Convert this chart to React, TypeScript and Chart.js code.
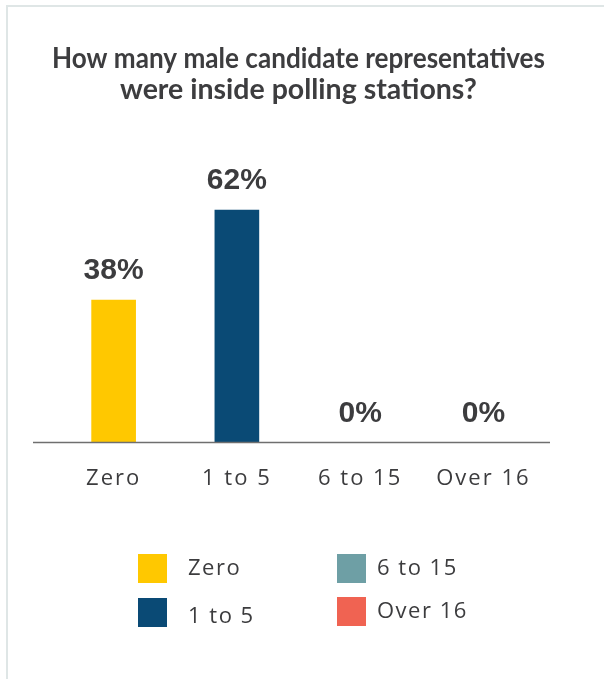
import React, { useEffect, useRef } from "react";
import { Chart, registerables } from "chart.js";

Chart.register(...registerables);

const titleLines = ["How many male candidate representatives", "were inside polling stations?"];
const categories = ["Zero", "1 to 5", "6 to 15", "Over 16"];
const values = [38, 62, 0, 0];
const colors = ["#FFC800", "#0A4A75", "#6E9FA5", "#F06352"];
const legendOrder = [0, 1, 2, 3];

const TEXT = "#3c3c3e";
const TITLE_FONT = "Lato, 'Noto Sans', sans-serif";
const LABEL_FONT = "'Open Sans', Lato, sans-serif";

const spacing = {
  id: "spacing",
  beforeDatasetsDraw(chart: any) {
    (chart.ctx as any).letterSpacing = "2px";
  },
  afterDraw(chart: any) {
    (chart.ctx as any).letterSpacing = "0px";
  },
};

const valueLabels = {
  id: "valueLabels",
  afterDatasetsDraw(chart: any) {
    const ctx = chart.ctx;
    const meta = chart.getDatasetMeta(0);
    ctx.save();
    (ctx as any).letterSpacing = "0px";
    ctx.font = "bold 30px 'Liberation Sans', Arial, sans-serif";
    ctx.fillStyle = TEXT;
    ctx.textAlign = "center";
    ctx.textBaseline = "alphabetic";
    meta.data.forEach((bar: any, i: number) => {
      ctx.fillText(values[i] + "%", bar.x, bar.y - 21);
    });
    ctx.restore();
  },
};

const baseline = {
  id: "baseline",
  afterDatasetsDraw(chart: any) {
    const ctx = chart.ctx;
    const y = chart.scales.y.getPixelForValue(0);
    const { left, right } = chart.chartArea;
    ctx.save();
    ctx.strokeStyle = "#6f6f6f";
    ctx.lineWidth = 1.5;
    ctx.beginPath();
    ctx.moveTo(left - 19, y);
    ctx.lineTo(right + 5, y);
    ctx.stroke();
    ctx.restore();
  },
};

const gridLegend = {
  id: "gridLegend",
  afterDraw(chart: any) {
    const ctx = chart.ctx;
    const colX = [138, 337];
    const textX = [188, 377];
    const rowY = [[554, 598], [554, 597]];
    const box = 29;
    ctx.save();
    (ctx as any).letterSpacing = "1.5px";
    ctx.font = "22px " + LABEL_FONT;
    ctx.textBaseline = "middle";
    ctx.textAlign = "left";
    legendOrder.forEach((idx, k) => {
      const col = Math.floor(k / 2);
      const row = k % 2;
      const x = colX[col];
      const y = rowY[col][row];
      ctx.fillStyle = colors[idx];
      ctx.fillRect(x, y, box, box);
      ctx.fillStyle = TEXT;
      const dy = idx === 1 ? 4 : 0;
      ctx.fillText(categories[idx], textX[col], y + box / 2 + dy);
    });
    ctx.restore();
  },
};

export default function App() {
  const ref = useRef<HTMLCanvasElement | null>(null);
  useEffect(() => {
    if (!ref.current) return;
    const chart = new Chart(ref.current, {
      type: "bar",
      data: {
        labels: categories,
        datasets: [
          {
            data: values,
            backgroundColor: colors,
            borderWidth: 0,
            barThickness: 44,
          },
        ],
      },
      options: {
        animation: false,
        responsive: false,
        maintainAspectRatio: false,
        layout: { padding: { left: 52, right: 59, top: 0, bottom: 164 } },
        plugins: {
          legend: { display: false },
          tooltip: { enabled: false },
          title: {
            display: true,
            text: titleLines,
            color: "#3d3d3f",
            font: { family: TITLE_FONT, size: 28.5, weight: "bold", lineHeight: 1.09 },
            padding: { top: 43, bottom: 75 },
          },
        },
        scales: {
          x: {
            grid: { display: false, drawTicks: false },
            border: { display: false },
            ticks: {
              z: 1,
              color: TEXT,
              padding: 23,
              font: { family: LABEL_FONT, size: 22 },
              maxRotation: 0,
            },
          },
          y: {
            display: false,
            min: 0,
            max: 70,
          },
        },
      },
      plugins: [spacing, valueLabels, baseline, gridLegend],
    });
    return () => chart.destroy();
  }, []);

  return (
    <div style={{ position: "fixed", left: 0, top: 0, width: 604, height: 679, background: "#fff" }}>
      <div
        style={{
          position: "absolute",
          left: 6,
          top: 5,
          width: 598,
          height: 674,
          borderTop: "2px solid #dfe6e6",
          borderLeft: "2px solid #dfe6e6",
          boxSizing: "border-box",
        }}
      />
      <canvas ref={ref} width={604} height={679} style={{ position: "absolute", left: 0, top: 0 }} />
    </div>
  );
}
